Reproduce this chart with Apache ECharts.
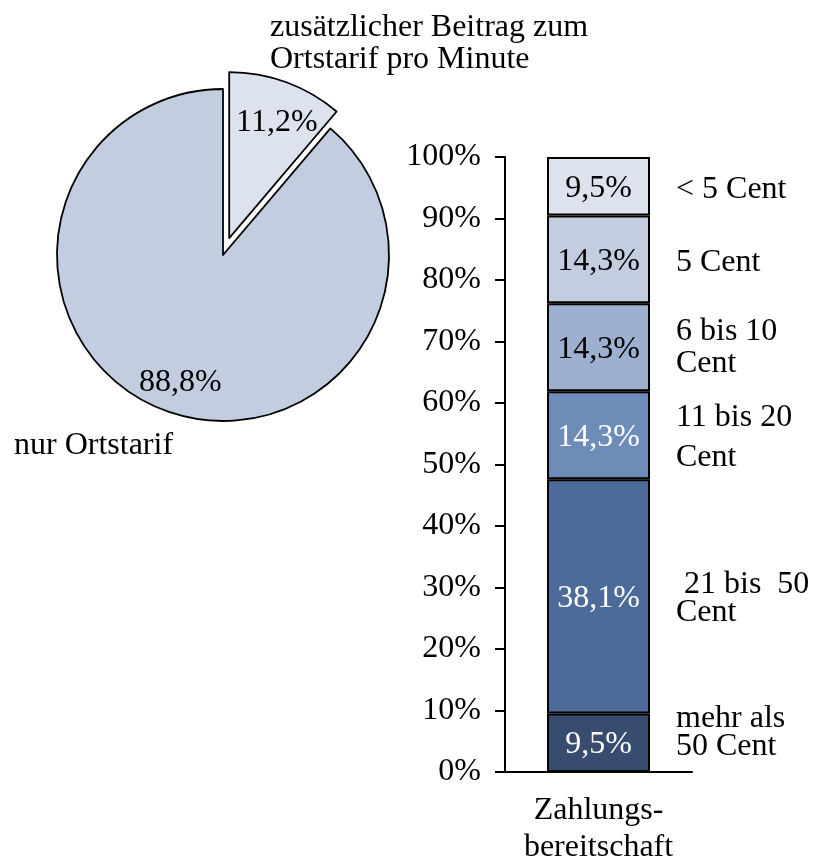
<!DOCTYPE html>
<html>
<head>
<meta charset="utf-8">
<script src="https://cdn.jsdelivr.net/npm/echarts@6/dist/echarts.min.js"></script>
<style>
  html, body { margin: 0; padding: 0; background: #fff; }
  #chart { width: 816px; height: 864px; }
</style>
</head>
<body>
<div id="chart"></div>
<script>
// pie: share of callers willing to pay extra
var pieNames = ['zusätzlicher Beitrag zum\nOrtstarif pro Minute', 'nur Ortstarif'];
var pieValues = [11.2, 88.8];

// stacked bar: how much extra (bottom to top)
var categories = ['Zahlungs-\nbereitschaft'];
var segNames = ['mehr als\n50 Cent', ' 21 bis  50\nCent', '11 bis 20\nCent', '6 bis 10\nCent', '5 Cent', '< 5 Cent'];
var segValues = [9.5, 38.1, 14.3, 14.3, 14.3, 9.5];
var yTicks = [0, 10, 20, 30, 40, 50, 60, 70, 80, 90, 100];

var FONT = 'Liberation Serif';
var FS = 32;
var segColors = ['#374c6e', '#4c6b99', '#6d8cb8', '#9db0cf', '#c3cde0', '#dde3ee'];
var segText = ['#fff', '#fff', '#fff', '#000', '#000', '#000'];
var segLineH = [28, 28, 40, 32, 30, 30];
var segNameDy = [-10, 2, 2, 0, 3, 3];
var pieColors = ['#dde3ee', '#c3cde0'];
var pieLabelOffset = [[18, -35], [-13, 47]];
var BAR_W = 103;
var PIE_C = [223, 255], PIE_R = 166, PIE_OFF = 18;

function pct(v) { return String(v).replace('.', ',') + '%'; }

var chart = echarts.init(document.getElementById('chart'));

var series = [];
segValues.forEach(function (v, i) {
  series.push({
    type: 'bar', stack: 'z', name: segNames[i],
    data: [v], barWidth: BAR_W,
    itemStyle: { color: segColors[i], borderColor: '#000', borderWidth: 2 },
    label: {
      show: true, position: 'inside', offset: [0, 2], formatter: function (p) { return pct(p.value); },
      color: segText[i], fontFamily: FONT, fontSize: FS
    },
    emphasis: { disabled: true },
    silent: true
  });
});

// names next to the bar, at the middle of each segment
var acc = 0;
var nameData = segValues.map(function (v, i) {
  var mid = acc + v / 2;
  acc += v;
  return {
    value: [0, mid],
    label: { formatter: segNames[i], lineHeight: segLineH[i], color: '#000', offset: [0, segNameDy[i]] }
  };
});
series.push({
  type: 'scatter', data: nameData, symbolSize: 0,
  itemStyle: { color: '#000', opacity: 1 },
  label: {
    show: true, position: 'right', distance: BAR_W / 2 + 26,
    color: '#000', fontFamily: FONT, fontSize: FS, align: 'left',
    textBorderWidth: 0, opacity: 1
  },
  emphasis: { disabled: true },
  silent: true, z: 5
});

series.push({
  type: 'pie', center: PIE_C, radius: PIE_R,
  startAngle: 90, clockwise: true,
  selectedMode: 'single', selectedOffset: PIE_OFF,
  data: pieValues.map(function (v, i) {
    return {
      name: pieNames[i], value: v, selected: i === 0,
      itemStyle: { color: pieColors[i] },
      label: { offset: pieLabelOffset[i] },
      select: { label: { offset: pieLabelOffset[i] } }
    };
  }),
  itemStyle: { borderColor: '#000', borderWidth: 1.8 },
  label: {
    show: true, position: 'inside', formatter: function (p) { return pct(p.value); },
    color: '#000', fontFamily: FONT, fontSize: FS
  },
  labelLine: { show: false },
  emphasis: { disabled: true },
  silent: true
});

var option = {
  backgroundColor: '#fff',
  animation: false,
  title: [
    { text: pieNames[0], left: 270, top: 12, padding: 0,
      textStyle: { fontFamily: FONT, fontSize: FS, fontWeight: 'normal', color: '#000', lineHeight: 32 } },
    { text: pieNames[1], left: 14, top: 430, padding: 0,
      textStyle: { fontFamily: FONT, fontSize: FS, fontWeight: 'normal', color: '#000' } }
  ],
  grid: { left: 505, right: 124, top: 157, bottom: 92, outerBoundsMode: 'none' },
  xAxis: {
    type: 'category', data: categories,
    axisLine: { lineStyle: { color: '#000', width: 2 } },
    axisTick: { show: false },
    axisLabel: { color: '#000', fontFamily: FONT, fontSize: FS, lineHeight: 37, margin: 20 }
  },
  yAxis: {
    type: 'value', min: yTicks[0], max: yTicks[yTicks.length - 1], interval: yTicks[1] - yTicks[0],
    axisLine: { show: true, lineStyle: { color: '#000', width: 2 } },
    axisTick: { show: true, length: 10, lineStyle: { color: '#000', width: 2 } },
    splitLine: { show: false },
    axisLabel: { color: '#000', fontFamily: FONT, fontSize: FS, margin: 24, formatter: '{value}%' }
  },
  series: series
};
chart.setOption(option);

// dashed connector from the exploded slice to the top of the bar
var top = chart.convertToPixel({ gridIndex: 0 }, [0, segValues.reduce(function (a, b) { return a + b; }, 0)]);
var ang = 2 * Math.PI * pieValues[0] / 100;
var mid = ang / 2;
var cx = PIE_C[0] + PIE_OFF * Math.sin(mid), cy = PIE_C[1] - PIE_OFF * Math.cos(mid);
var px = cx + PIE_R * Math.sin(ang), py = cy - PIE_R * Math.cos(ang);
var barLeft = top[0] - BAR_W / 2;
chart.setOption({
  graphic: [{
    type: 'polyline', silent: true,
    shape: { points: [[px, py], [barLeft, py], [barLeft, top[1]]] },
    style: { stroke: '#555', lineWidth: 1, lineDash: [3, 3], fill: null }
  }]
});
</script>
</body>
</html>
